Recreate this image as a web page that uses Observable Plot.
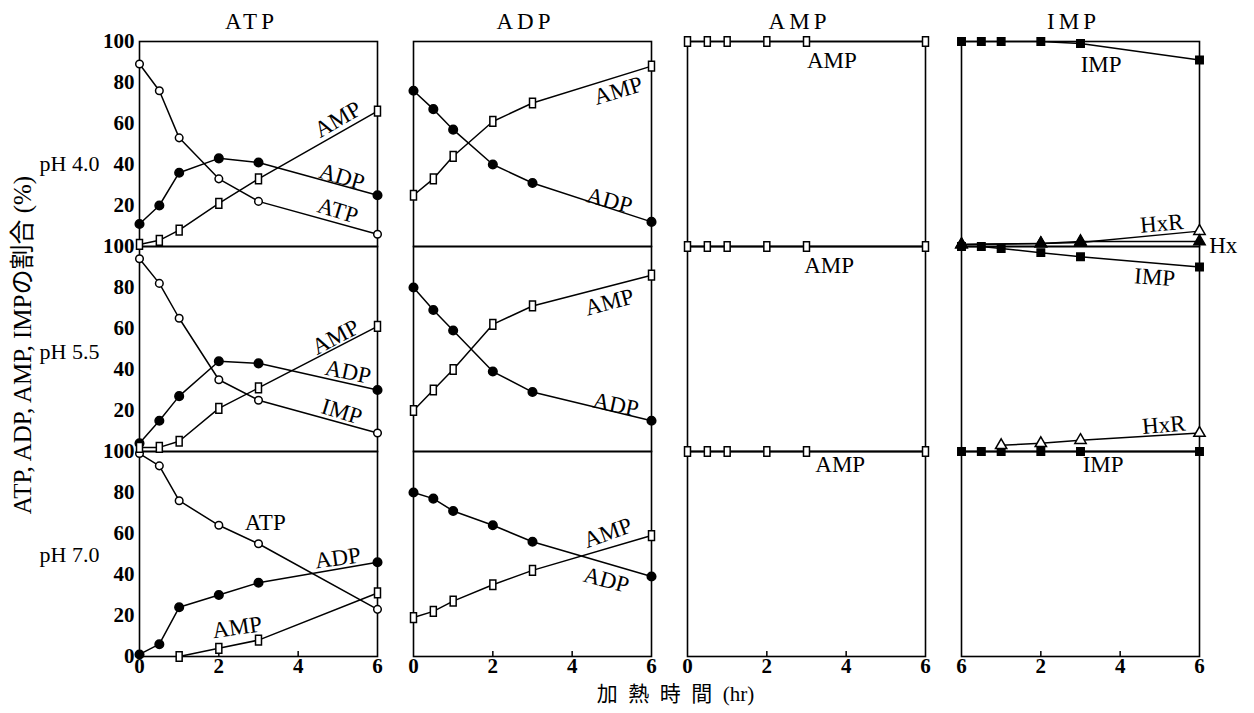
<!DOCTYPE html>
<html><head><meta charset="utf-8">
<script src="https://cdn.jsdelivr.net/npm/d3@7"></script>
<script src="https://cdn.jsdelivr.net/npm/@observablehq/plot@0.6"></script>
<style>
body{margin:0;background:#fff;}
#chart svg{display:block}
g[aria-label="fx-axis tick label"] text{letter-spacing:4px}
</style></head><body><div id="chart"></div>
<script>
// ---- categories ----
const times = [0, 0.5, 1, 2, 3, 6];
const columns = ["ATP", "ADP", "AMP", "IMP"];
const rows = ["pH 4.0", "pH 5.5", "pH 7.0"];
const yTicks = [0, 20, 40, 60, 80, 100];
const xTicks = [0, 2, 4, 6];
const xTickLabelsATP = ["0", "2", "4", "6"];
const xTickLabelsADP = ["0", "2", "4", "6"];
const xTickLabelsAMP = ["0", "2", "4", "6"];
const xTickLabelsIMP = ["6", "2", "4", "6"];

// ---- ATP heated ----
const atp40_ATP = [89, 76, 53, 33, 22, 6];
const atp40_ADP = [11, 20, 36, 43, 41, 25];
const atp40_AMP = [1, 3, 8, 21, 33, 66];
const atp55_ATP = [94, 82, 65, 35, 25, 9];
const atp55_ADP = [4, 15, 27, 44, 43, 30];
const atp55_AMP = [2, 2, 5, 21, 31, 61];
const atp70_ATP = [99, 93, 76, 64, 55, 23];
const atp70_ADP = [1, 6, 24, 30, 36, 46];
const atp70_AMP_t = [1, 2, 3, 6];
const atp70_AMP = [0, 4, 8, 31];
// ---- ADP heated ----
const adp40_ADP = [76, 67, 57, 40, 31, 12];
const adp40_AMP = [25, 33, 44, 61, 70, 88];
const adp55_ADP = [80, 69, 59, 39, 29, 15];
const adp55_AMP = [20, 30, 40, 62, 71, 86];
const adp70_ADP = [80, 77, 71, 64, 56, 39];
const adp70_AMP = [19, 22, 27, 35, 42, 59];
// ---- AMP heated ----
const amp40_AMP = [100, 100, 100, 100, 100, 100];
const amp55_AMP = [100, 100, 100, 100, 100, 100];
const amp70_AMP = [100, 100, 100, 100, 100, 100];
// ---- IMP heated ----
const imp40_IMP = [100, 100, 100, 100, 99, 91];
const imp40_Hx_t = [0, 2, 3, 6];
const imp40_HxR = [1, 1.5, 2, 7.5];
const imp40_Hx = [1, 1.5, 2.5, 2.5];
const imp55_IMP = [100, 100, 99, 97, 95, 90];
const imp55_HxR_t = [1, 2, 3, 6];
const imp55_HxR = [3, 4, 5.5, 9];
const imp70_IMP = [100, 100, 100, 100, 100, 100];

const series = [
  ["ATP", "pH 4.0", "ATP", times, atp40_ATP],
  ["ATP", "pH 4.0", "ADP", times, atp40_ADP],
  ["ATP", "pH 4.0", "AMP", times, atp40_AMP],
  ["ATP", "pH 5.5", "ATP", times, atp55_ATP],
  ["ATP", "pH 5.5", "ADP", times, atp55_ADP],
  ["ATP", "pH 5.5", "AMP", times, atp55_AMP],
  ["ATP", "pH 7.0", "ATP", times, atp70_ATP],
  ["ATP", "pH 7.0", "ADP", times, atp70_ADP],
  ["ATP", "pH 7.0", "AMP", atp70_AMP_t, atp70_AMP],
  ["ADP", "pH 4.0", "ADP", times, adp40_ADP],
  ["ADP", "pH 4.0", "AMP", times, adp40_AMP],
  ["ADP", "pH 5.5", "ADP", times, adp55_ADP],
  ["ADP", "pH 5.5", "AMP", times, adp55_AMP],
  ["ADP", "pH 7.0", "ADP", times, adp70_ADP],
  ["ADP", "pH 7.0", "AMP", times, adp70_AMP],
  ["AMP", "pH 4.0", "AMP", times, amp40_AMP],
  ["AMP", "pH 5.5", "AMP", times, amp55_AMP],
  ["AMP", "pH 7.0", "AMP", times, amp70_AMP],
  ["IMP", "pH 4.0", "IMP", times, imp40_IMP],
  ["IMP", "pH 4.0", "HxR", imp40_Hx_t, imp40_HxR],
  ["IMP", "pH 4.0", "Hx", imp40_Hx_t, imp40_Hx],
  ["IMP", "pH 5.5", "IMP", times, imp55_IMP],
  ["IMP", "pH 5.5", "HxR", imp55_HxR_t, imp55_HxR],
  ["IMP", "pH 7.0", "IMP", times, imp70_IMP]
];
const table = series.flatMap(([col, row, cmp, ts, vs]) =>
  ts.map((t, i) => ({fx: col, fy: row, cmp, key: col + row + cmp, t, v: vs[i]})));

// ---- in-panel annotations (data coordinates) ----
const labels = [
  ["ATP", "pH 4.0", "AMP", 5.0, 62, -30],
  ["ATP", "pH 4.0", "ADP", 5.1, 34, 17],
  ["ATP", "pH 4.0", "ATP", 5.0, 17.5, 17],
  ["ADP", "pH 4.0", "AMP", 5.16, 76, -17],
  ["ADP", "pH 4.0", "ADP", 4.94, 22.4, 15],
  ["AMP", "pH 4.0", "AMP", 3.64, 90.7, 0],
  ["IMP", "pH 4.0", "IMP", 3.52, 88.8, 0],
  ["IMP", "pH 4.0", "HxR", 5.05, 11.2, -5],
  ["IMP", "pH 4.0", "Hx", 6.6, 0.5, 0],
  ["ATP", "pH 5.5", "AMP", 4.94, 55.8, -28],
  ["ATP", "pH 5.5", "ADP", 5.26, 38.8, 12],
  ["ATP", "pH 5.5", "IMP", 5.1, 19.4, 17],
  ["ADP", "pH 5.5", "AMP", 4.94, 72.8, -15],
  ["ADP", "pH 5.5", "ADP", 5.1, 22.8, 12],
  ["AMP", "pH 5.5", "AMP", 3.57, 90.8, 0],
  ["IMP", "pH 5.5", "IMP", 4.87, 85, 4],
  ["IMP", "pH 5.5", "HxR", 5.1, 13, -5],
  ["ATP", "pH 7.0", "ATP", 3.17, 65.2, 0],
  ["ATP", "pH 7.0", "ADP", 5.0, 48, -8],
  ["ATP", "pH 7.0", "AMP", 2.46, 14.2, -8],
  ["ADP", "pH 7.0", "AMP", 4.9, 60.3, -20],
  ["ADP", "pH 7.0", "ADP", 4.86, 37.3, 15],
  ["AMP", "pH 7.0", "AMP", 3.85, 93.6, 0],
  ["IMP", "pH 7.0", "IMP", 3.57, 93.6, 0]
].map(([fx, fy, text, t, v, rot]) => ({fx, fy, text, t, v, rot}));

const rowLabelY = [40.5, 48.5, 49.5];
const rowLabels = rows.map((r, i) => ({fx: "ATP", fy: r, text: r, v: rowLabelY[i]}));

// y tick labels: the "0" of the upper rows is hidden under the "100" of the row below
const yTickRows = rows.flatMap((r, ri) =>
  yTicks.filter(v => v > 0 || ri === rows.length - 1).map(v => ({fx: "ATP", fy: r, v, label: String(v)})));

const tickLabelSets = {ATP: xTickLabelsATP, ADP: xTickLabelsADP, AMP: xTickLabelsAMP, IMP: xTickLabelsIMP};
const xTickRows = columns.flatMap(c => xTicks.map((x, i) => ({fx: c, fy: "pH 7.0", x, label: tickLabelSets[c][i]})));

// tall open rectangle symbol for AMP
const tallRect = {
  draw(ctx, size) {
    const r = Math.sqrt(size / Math.PI);
    const w = r * 0.68, h = r * 1.1;
    ctx.moveTo(-w, -h); ctx.lineTo(w, -h); ctx.lineTo(w, h); ctx.lineTo(-w, h); ctx.closePath();
  }
};

const dotStyle = {
  ATP: {symbol: "circle", fill: "white", r: 3.8},
  ADP: {symbol: "circle", fill: "black", r: 4.3},
  AMP: {symbol: tallRect, fill: "white", r: 4.4},
  IMP: {symbol: "square", fill: "black", r: 4.2},
  HxR: {symbol: "triangle", fill: "white", r: 4.2},
  Hx: {symbol: "triangle", fill: "black", r: 4.2}
};

const dotMarks = Object.entries(dotStyle).map(([cmp, s]) =>
  Plot.dot(table.filter(d => d.cmp === cmp), {
    x: "t", y: "v", fx: "fx", fy: "fy",
    symbol: s.symbol, r: s.r, fill: s.fill, stroke: "black", strokeWidth: 1.5
  }));

const chart = Plot.plot({
  width: 1254,
  height: 713,
  marginTop: 41,
  marginBottom: 57,
  marginLeft: 139,
  marginRight: 54,
  style: {fontFamily: '"Liberation Serif", "Noto Sans CJK JP", serif', fontSize: "20px", background: "white", color: "black"},
  x: {domain: [0, 6], axis: null},
  y: {domain: [0, 100], axis: null},
  fx: {domain: columns, paddingInner: 0.131, paddingOuter: 0},
  fy: {domain: rows, padding: 0, axis: null},
  marks: [
    Plot.frame({stroke: "black", strokeWidth: 1.6}),
    Plot.axisFx({anchor: "top", tickSize: 0, tickPadding: 13, label: null, fontSize: 23, dx: -7}),
    Plot.text(yTickRows, {y: "v", fx: "fx", fy: "fy", text: "label", frameAnchor: "left", dx: -5, textAnchor: "end", fontWeight: "bold", fontSize: 21}),
    Plot.ruleX(xTickRows.filter(d => d.x > 0 && d.x < 6), {x: "x", fx: "fx", fy: "fy", y1: 0, y2: 2.5, stroke: "black", strokeWidth: 1.5}),
    Plot.text(xTickRows, {x: "x", fx: "fx", fy: "fy", text: "label", frameAnchor: "bottom", dy: 16, fontWeight: "bold", fontSize: 21}),
    Plot.line(table, {x: "t", y: "v", fx: "fx", fy: "fy", z: "key", stroke: "black", strokeWidth: 1.5}),
    ...dotMarks,
    Plot.text(labels, {x: "t", y: "v", fx: "fx", fy: "fy", text: "text", rotate: "rot", fontSize: 23}),
    Plot.text(rowLabels, {y: "v", fx: "fx", fy: "fy", text: "text", frameAnchor: "left", dx: -40, textAnchor: "end", fontSize: 22}),
    Plot.text([{fx: "ATP", fy: "pH 5.5"}], {fx: "fx", fy: "fy", frameAnchor: "left", dx: -117, dy: -4, rotate: -90, textAnchor: "middle", fontSize: 25,
      text: () => "ATP, ADP, AMP, IMPの割合 (%)"}),
    Plot.text([{fx: "ADP", fy: "pH 7.0"}], {fx: "fx", fy: "fy", frameAnchor: "bottom-right", dx: 24, dy: 44, textAnchor: "middle", fontSize: 21,
      text: () => "加\u2002熱\u2002時\u2002間\u2002(hr)"})
  ]
});
document.getElementById("chart").appendChild(chart);
</script></body></html>
